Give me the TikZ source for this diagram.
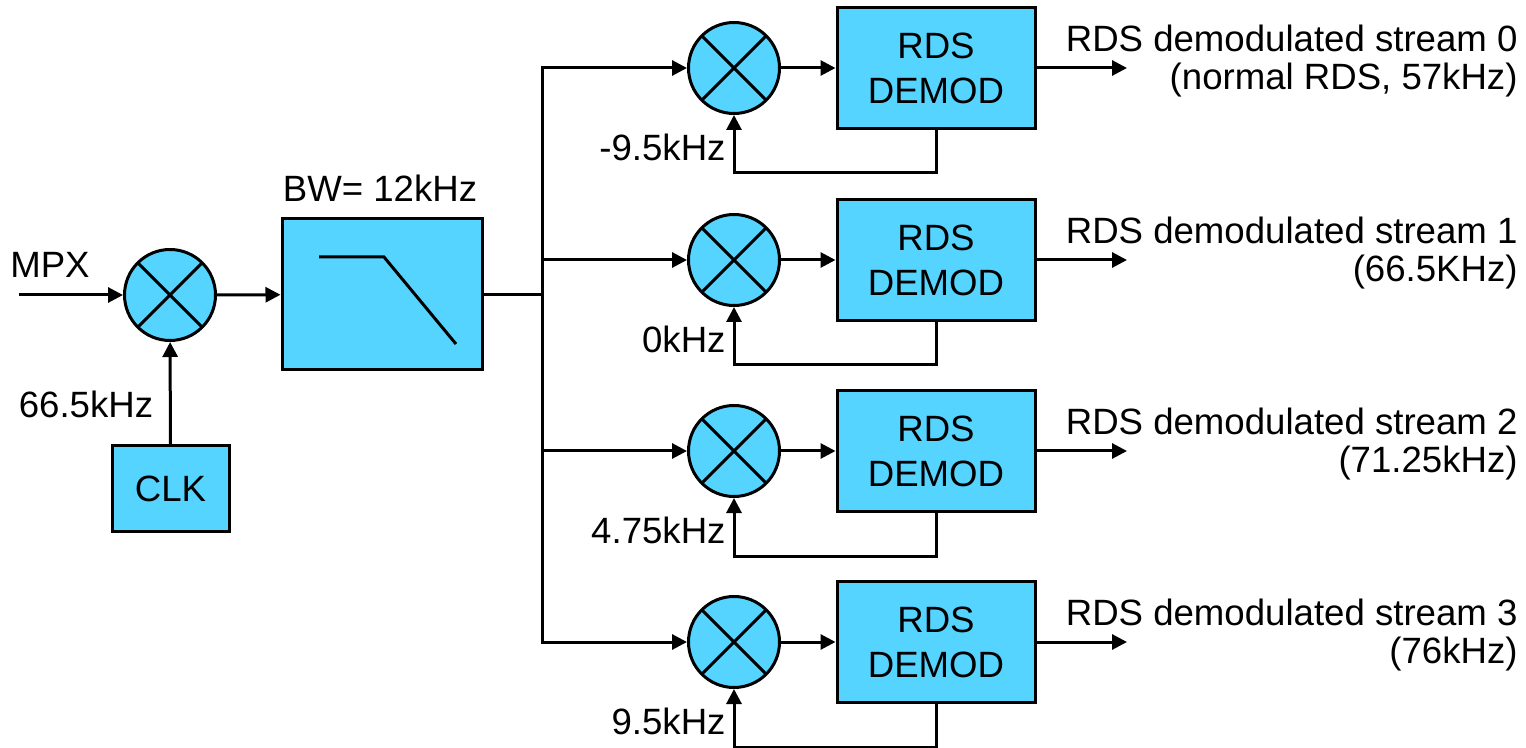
\documentclass[tikz,border=0pt]{standalone}
\usepackage{fontspec}
\setmainfont{Liberation Sans}
\usetikzlibrary{arrows.meta,calc}
\definecolor{boxblue}{RGB}{85,212,255}
\begin{document}
\begin{tikzpicture}[x=0.5pt,y=-0.5pt,line width=1.5pt,
  blk/.style={draw,fill=boxblue,minimum width=99pt,minimum height=60.5pt,inner sep=0pt,align=center,font=\fontsize{18.3}{22.5}\selectfont},
  mix/.style={draw,fill=boxblue,circle,minimum size=45.5pt,inner sep=0pt,
    path picture={\draw (path picture bounding box.north west) -- (path picture bounding box.south east)
                        (path picture bounding box.north east) -- (path picture bounding box.south west);}},
  lbl/.style={inner sep=0pt,font=\fontsize{18.3}{19}\selectfont},
  arr/.style={-{Triangle[length=7.5pt,width=7.5pt]}},
]
\useasboundingbox (0,0) rectangle (1526,748);
% front end
\node[mix] (m) at (170,295) {};
\node[blk,minimum width=58.5pt,minimum height=42.5pt] (clk) at (170.5,488.5) {CLK};
\node[blk,minimum width=100pt,minimum height=75.5pt] (flt) at (382,294.5) {};
\draw ([shift={(-63,-37.5)}]flt.center) -- ([shift={(2,-37.5)}]flt.center) -- ([shift={(74,49.5)}]flt.center);
\coordinate (in) at (19,295);
\node[lbl] (mpx) at (50,265) {MPX};
\node[lbl] (f0) at (86,404) {66.5kHz};
\node[lbl] (bw) at (380,188.5) {BW= 12kHz};
\draw[arr] (in) -- (m);
\draw[arr] (clk) -- (m);
\draw[arr] (m) -- (flt);
\coordinate (bj) at (542,294.5);
\draw (flt.east) -- (bj);
% branches
\foreach \i/\y/\lo/\txt in {0/68/-9.5kHz/{RDS demodulated stream 0\\(normal RDS, 57kHz)},
                         1/260/0kHz/{RDS demodulated stream 1\\(66.5KHz)},
                         2/451/4.75kHz/{RDS demodulated stream 2\\(71.25kHz)},
                         3/642/9.5kHz/{RDS demodulated stream 3\\(76kHz)}}{
  \node[mix] (mx\i) at (734,\y) {};
  \node[blk] (dm\i) at (936,\y) {RDS\\DEMOD};
  \coordinate (b\i) at (542,\y);
  \coordinate (o\i) at (1127,\y);
  \draw[arr] (mx\i) -- (dm\i);
  \draw[arr] (dm\i) -- (o\i);
  \draw[arr] (dm\i.south) -- ++(0,43) -| (mx\i);
  \node[lbl,anchor=east] (lo\i) at (727,\y+79) {\lo};
  \node[lbl,anchor=east,align=right] (t\i) at (1519,\y-6.5) {\txt};
}
\draw[arr] (bj) |- (mx0);
\draw[arr] (bj) |- (mx3);
\draw[arr] (b1) -- (mx1);
\draw[arr] (b2) -- (mx2);
\end{tikzpicture}
\end{document}
